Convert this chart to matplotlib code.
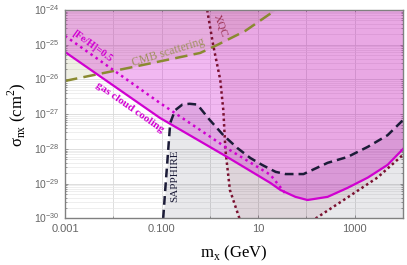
import matplotlib
matplotlib.use('Agg')
import matplotlib.pyplot as plt
from matplotlib.ticker import FixedLocator, LogLocator, NullFormatter

# gas cloud cooling bound (solid)
gas_m = [1e-3, 0.093, 2.1, 18, 29, 59, 105, 275, 710, 1860, 4800, 1e4]
gas_s = [6.2e-26, 7.8e-28, 6.3e-29, 1.05e-29, 6.6e-30, 4.2e-30, 3.4e-30,
         4.2e-30, 7.6e-30, 1.5e-29, 3.5e-29, 1e-28]

# gas cloud cooling with [Fe/H]=0.5 (dotted)
fe_m = [1e-3, 0.093, 0.55, 2.6, 18, 36]
fe_s = [1.8e-25, 2.1e-27, 4.0e-28, 9.3e-29, 1.8e-29, 5.4e-30]

# CMB scattering
cmb_m = [1e-3, 0.0224, 0.63, 1.41, 5.4, 23]
cmb_s = [9.1e-27, 2.2e-26, 5.8e-26, 9.8e-26, 2.5e-25, 1e-24]

# SAPPHIRE
sap_m = [0.108, 0.119, 0.151, 0.19, 0.27, 0.38, 0.55, 1.0, 1.9, 3.7, 6.9, 12,
         23, 37, 87, 275, 710, 1860, 4800, 1e4]
sap_s = [1e-30, 6.6e-30, 5.6e-28, 1.3e-27, 1.9e-27, 2.0e-27, 1.9e-27, 6.8e-28,
         2.5e-28, 1.07e-28, 5.5e-29, 3.5e-29, 2.2e-29, 1.9e-29, 1.9e-29,
         4.0e-29, 5.9e-29, 1.15e-28, 2.5e-28, 6.8e-28]

# XQC, two branches
xqc_lm = [0.88, 1.17, 1.64, 1.9, 2.1, 2.6, 4.1]
xqc_ls = [1e-24, 9.8e-26, 9.8e-27, 1.3e-27, 9.3e-29, 6.6e-30, 1e-30]
xqc_rm = [155, 590, 2950, 1e4]
xqc_rs = [1e-30, 3.4e-30, 1.5e-29, 6.8e-29]

xlim = (1e-3, 1e4)
ylim = (1e-30, 1e-24)
xticks = [1e-3, 1e-1, 1e1, 1e3]
xticklabels = ['0.001', '0.100', '10', '1000']
yexps = [-30, -29, -28, -27, -26, -25, -24]

magenta = '#d000d0'
olive = '#8a8a30'
navy = '#1c1c38'
maroon = '#7a1030'

plt.rcParams['font.family'] = 'Liberation Sans'
fig = plt.figure(figsize=(4.07, 2.65), dpi=100)
ax = fig.add_axes([0.1597, 0.1755, 0.8305, 0.7868])
ax.set_xscale('log')
ax.set_yscale('log')
ax.set_xlim(*xlim)
ax.set_ylim(*ylim)

# shaded regions
ax.fill_between(sap_m, 1e-32, sap_s, color='#202040', alpha=0.1, lw=0)
ax.fill(xqc_lm + xqc_rm + [1e5, 1e5, xqc_lm[0]],
        xqc_ls + xqc_rs + [xqc_rs[-1], 1e-23, 1e-23],
        color=maroon, alpha=0.09, lw=0)
ax.fill_between(cmb_m, cmb_s, 1e-23, color=olive, alpha=0.13, lw=0)
ax.fill_between(gas_m, gas_s, 1e-23, color=magenta, alpha=0.28, lw=0)

# curves
ax.plot(cmb_m, cmb_s, color=olive, lw=1.8, dashes=(5, 2.5))
ax.plot(sap_m, sap_s, color=navy, lw=1.8, dashes=(3.5, 2))
ax.plot(xqc_lm, xqc_ls, color=maroon, lw=1.8, dashes=(1, 1.2))
ax.plot(xqc_rm, xqc_rs, color=maroon, lw=1.8, dashes=(1, 1.2))
ax.plot(fe_m, fe_s, color=magenta, lw=1.8, dashes=(1, 1.5))
ax.plot(gas_m, gas_s, color=magenta, lw=1.6)

# labels
serif = 'Liberation Serif'
ax.text(0.138, 6.2e-26, 'CMB scattering', color='#a09060', fontsize=8.5,
        family=serif, rotation=17, ha='center', va='center')
ax.text(0.0224, 1.6e-27, 'gas cloud cooling', color=magenta, fontsize=8,
        family=serif, fontweight='bold', rotation=-35, ha='center', va='center')
ax.text(0.0036, 9.1e-26, '[Fe/H]=0.5', color=magenta, fontsize=7.5,
        family=serif, fontweight='bold', rotation=-36, ha='center', va='center')
ax.text(0.19, 1.66e-29, 'SAPPHIRE', color=navy, fontsize=8,
        family=serif, rotation=90, ha='center', va='center')
ax.text(1.64, 3.5e-25, 'XQC', color='#9a3050', fontsize=8,
        family=serif, rotation=-70, ha='center', va='center')

# axes styling
ax.xaxis.set_major_locator(FixedLocator(xticks))
ax.set_xticklabels(xticklabels)
ax.xaxis.set_minor_locator(LogLocator(base=10, numticks=20))
ax.xaxis.set_minor_formatter(NullFormatter())
ax.yaxis.set_major_locator(FixedLocator([10.0 ** e for e in yexps]))
ax.set_yticklabels([r'$\mathregular{10^{%d}}$' % e for e in yexps], va='center')
ax.yaxis.set_minor_locator(LogLocator(base=10, subs=range(2, 10), numticks=20))
ax.yaxis.set_minor_formatter(NullFormatter())

ax.grid(True, which='major', color='#d8d8d8', lw=0.6)
ax.grid(True, which='minor', axis='y', color='#e8e8e8', lw=0.5)
ax.grid(True, which='minor', axis='x', color='#d8d8d8', lw=0.6)
ax.set_axisbelow(True)

ax.tick_params(which='both', direction='in', top=True, right=True,
               colors='#888888', labelcolor='#666666', labelsize=8,
               length=2.5, width=0.6, pad=4)
ax.tick_params(axis='y', labelsize=7.5)
ax.tick_params(which='minor', length=1.5)
for s in ax.spines.values():
    s.set_color('#808080')
    s.set_linewidth(1.0)

ax.set_xlabel(r'm$_\mathregular{x}$ (GeV)', family=serif, fontsize=12, labelpad=7)
ax.set_ylabel(r'σ$_\mathregular{nx}$ (cm$^\mathregular{2}$)', family=serif,
              fontsize=12, labelpad=4)

fig.savefig('out.png', dpi=100)
